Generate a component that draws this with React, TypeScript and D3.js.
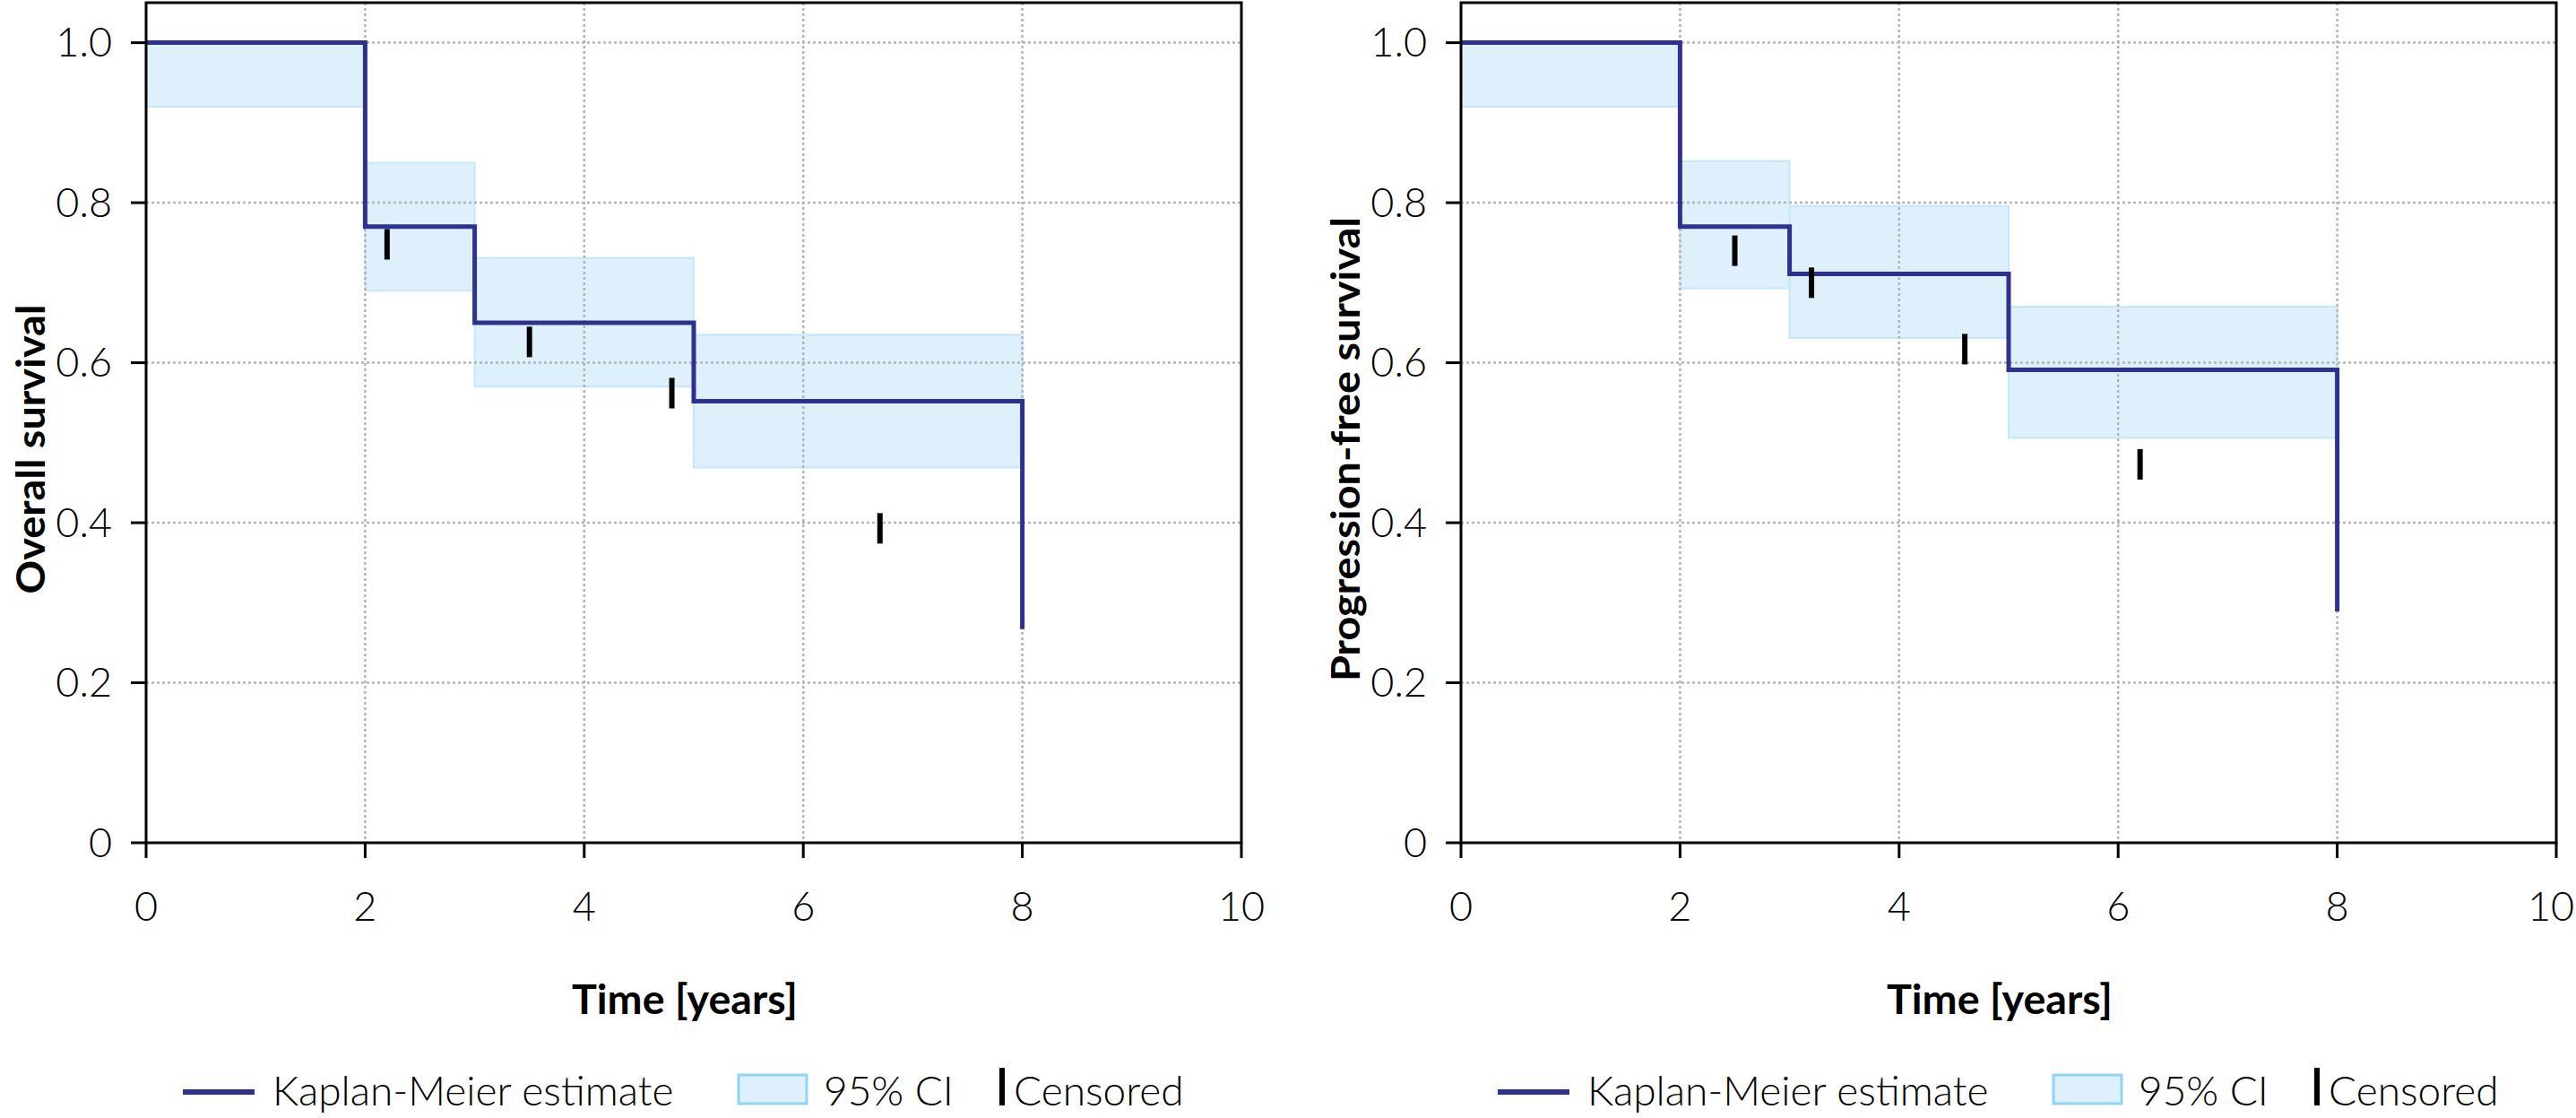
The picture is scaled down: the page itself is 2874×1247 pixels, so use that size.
import React from "react";
import * as d3 from "d3";

// ---------- data ----------
const timeTicks = [0, 2, 4, 6, 8, 10];
const survTicks = [0, 0.2, 0.4, 0.6, 0.8, 1.0];

// Overall survival
const osTimes = [0, 2, 3, 5, 8];
const osSurv = [1.0, 0.77, 0.65, 0.552, 0.267];
const osCiStart = [0, 2, 3, 5];
const osCiEnd = [2, 3, 5, 8];
const osCiLower = [0.92, 0.69, 0.57, 0.469];
const osCiUpper = [1.0, 0.85, 0.731, 0.635];
const osCensTime = [2.2, 3.5, 4.8, 6.7];
const osCensSurv = [0.748, 0.626, 0.562, 0.393];

// Progression-free survival
const pfsTimes = [0, 2, 3, 5, 8];
const pfsSurv = [1.0, 0.77, 0.711, 0.591, 0.289];
const pfsCiStart = [0, 2, 3, 5];
const pfsCiEnd = [2, 3, 5, 8];
const pfsCiLower = [0.92, 0.693, 0.631, 0.506];
const pfsCiUpper = [1.0, 0.852, 0.796, 0.67];
const pfsCensTime = [2.5, 3.2, 4.6, 6.2];
const pfsCensSurv = [0.74, 0.7, 0.617, 0.473];

const xTitle = "Time [years]";
const legendLabels = ["Kaplan-Meier estimate", "95% CI", "Censored"];

// ---------- style ----------
const KM_COLOR = "#2e3192";
const CI_FILL = "#ddf0fb";
const CI_STROKE = "#c4e7f9";
const FONT = "Lato, 'Open Sans', sans-serif";
const PAGE_W = 2874;
const PAGE_H = 1247;

type PanelProps = {
  left: number;
  yTitle: string;
  yTitleLen: number;
  times: number[];
  surv: number[];
  ciStart: number[];
  ciEnd: number[];
  ciLower: number[];
  ciUpper: number[];
  censTime: number[];
  censSurv: number[];
};

const TOP = 3;
const BOTTOM = 940;
const WIDTH = 1222;

function Panel(p: PanelProps) {
  const x = d3.scaleLinear().domain([0, 10]).range([p.left, p.left + WIDTH]);
  const y = d3.scaleLinear().domain([0, 1.05]).range([BOTTOM, TOP]);
  const line = d3
    .line<number>()
    .x((_, i) => x(p.times[i]))
    .y((d) => y(d))
    .curve(d3.curveStepAfter);

  const legendX = p.left + 41;
  const legendY = 1218;

  return (
    <g>
      {/* CI bands */}
      {p.ciStart.map((s, i) => (
        <rect
          key={"ci" + i}
          x={x(s)}
          y={y(p.ciUpper[i])}
          width={x(p.ciEnd[i]) - x(s)}
          height={y(p.ciLower[i]) - y(p.ciUpper[i])}
          fill={CI_FILL}
          stroke={CI_STROKE}
          strokeWidth={2}
        />
      ))}
      {/* grid */}
      {timeTicks
        .filter((t) => t > 0 && t < 10)
        .map((t) => (
          <line
            key={"gx" + t}
            x1={x(t)}
            x2={x(t)}
            y1={TOP}
            y2={BOTTOM}
            stroke="#b4b4b4"
            strokeWidth={2.5}
            strokeDasharray="3,3"
          />
        ))}
      {survTicks
        .filter((t) => t > 0)
        .map((t) => (
          <line
            key={"gy" + t}
            x1={x(0)}
            x2={x(10)}
            y1={y(t)}
            y2={y(t)}
            stroke="#b4b4b4"
            strokeWidth={2.5}
            strokeDasharray="3,3"
          />
        ))}
      {/* KM line */}
      <path
        d={line(p.surv) || ""}
        fill="none"
        stroke={KM_COLOR}
        strokeWidth={5}
        strokeLinejoin="miter"
      />
      {/* censored marks */}
      {p.censTime.map((t, i) => (
        <line
          key={"c" + i}
          x1={x(t)}
          x2={x(t)}
          y1={y(p.censSurv[i]) - 17}
          y2={y(p.censSurv[i]) + 17}
          stroke="#000"
          strokeWidth={6}
        />
      ))}
      {/* frame */}
      <rect
        x={x(0)}
        y={TOP}
        width={x(10) - x(0)}
        height={BOTTOM - TOP}
        fill="none"
        stroke="#000"
        strokeWidth={3}
      />
      {/* x ticks */}
      {timeTicks.map((t) => (
        <g key={"xt" + t}>
          <line x1={x(t)} x2={x(t)} y1={BOTTOM} y2={BOTTOM + 17} stroke="#000" strokeWidth={3} />
          <text
            x={Math.min(x(t), PAGE_W - 28)}
            y={1027}
            textAnchor="middle"
            fontFamily={FONT}
            fontWeight={300}
            fontSize={45}
            fill="#000"
          >
            {t}
          </text>
        </g>
      ))}
      {/* y ticks */}
      {survTicks.map((t) => (
        <g key={"yt" + t}>
          <line x1={x(0) - 17} x2={x(0)} y1={y(t)} y2={y(t)} stroke="#000" strokeWidth={3} />
          <text
            x={x(0) - 38}
            y={y(t)}
            dy="0.35em"
            textAnchor="end"
            fontFamily={FONT}
            fontWeight={300}
            fontSize={45}
            fill="#000"
          >
            {t === 0 ? "0" : d3.format(".1f")(t)}
          </text>
        </g>
      ))}
      {/* axis titles */}
      <text
        x={x(0) + WIDTH / 2 - 10}
        y={1131}
        textAnchor="middle"
        fontFamily={FONT}
        fontWeight={700}
        fontSize={46}
        textLength={252}
        lengthAdjust="spacingAndGlyphs"
        fill="#000"
      >
        {xTitle}
      </text>
      <text
        transform={`translate(${p.left - 113},501) rotate(-90)`}
        textAnchor="middle"
        fontFamily={FONT}
        fontWeight={700}
        fontSize={44}
        textLength={p.yTitleLen}
        lengthAdjust="spacingAndGlyphs"
        fill="#000"
      >
        {p.yTitle}
      </text>
      {/* legend */}
      <line x1={legendX} x2={legendX + 80} y1={legendY} y2={legendY} stroke={KM_COLOR} strokeWidth={6} />
      <text x={legendX + 100} y={1233} fontFamily={FONT} fontWeight={300} fontSize={46} fill="#000">
        {legendLabels[0]}
      </text>
      <rect
        x={p.left + 661}
        y={1199}
        width={76}
        height={32}
        fill={CI_FILL}
        stroke="#8fd4f5"
        strokeWidth={3}
      />
      <text x={p.left + 756} y={1233} fontFamily={FONT} fontWeight={300} fontSize={46} fill="#000">
        {legendLabels[1]}
      </text>
      <line
        x1={p.left + 955}
        x2={p.left + 955}
        y1={1191}
        y2={1233}
        stroke="#000"
        strokeWidth={6}
      />
      <text x={p.left + 968} y={1233} fontFamily={FONT} fontWeight={300} fontSize={46} fill="#000">
        {legendLabels[2]}
      </text>
    </g>
  );
}

export default function App() {
  return (
    <svg
      width={PAGE_W}
      height={PAGE_H}
      style={{ position: "absolute", left: 0, top: 0, background: "#fff" }}
    >
      <rect x={0} y={0} width={PAGE_W} height={PAGE_H} fill="#fff" />
      <Panel
        left={163}
        yTitle="Overall survival"
        yTitleLen={323}
        times={osTimes}
        surv={osSurv}
        ciStart={osCiStart}
        ciEnd={osCiEnd}
        ciLower={osCiLower}
        ciUpper={osCiUpper}
        censTime={osCensTime}
        censSurv={osCensSurv}
      />
      <Panel
        left={1630}
        yTitle="Progression-free survival"
        yTitleLen={518}
        times={pfsTimes}
        surv={pfsSurv}
        ciStart={pfsCiStart}
        ciEnd={pfsCiEnd}
        ciLower={pfsCiLower}
        ciUpper={pfsCiUpper}
        censTime={pfsCensTime}
        censSurv={pfsCensSurv}
      />
    </svg>
  );
}
